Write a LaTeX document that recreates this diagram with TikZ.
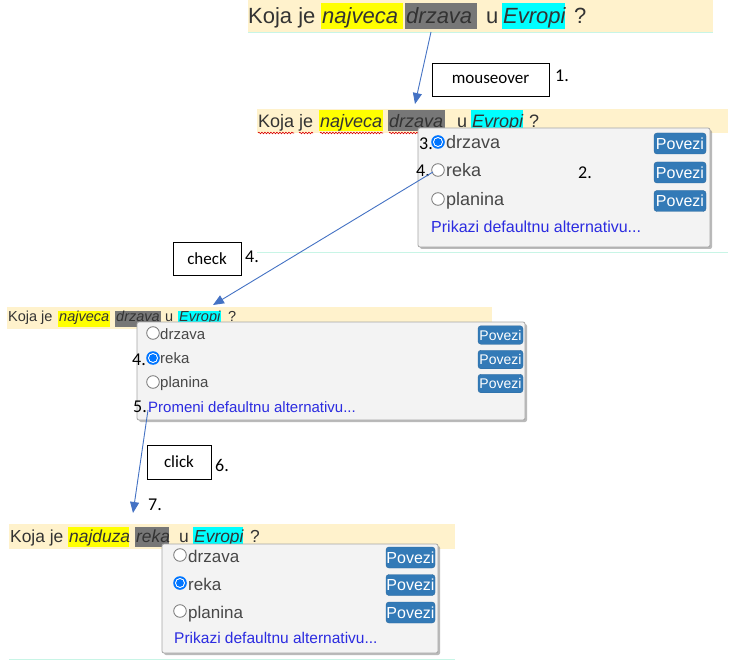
\documentclass[tikz,border=0pt]{standalone}
\usepackage{fontspec}
\setmainfont{Liberation Sans}
\newfontfamily\calfont{Carlito}
\usetikzlibrary{arrows.meta,shadows,decorations.pathmorphing}
\definecolor{bandbg}{HTML}{FFF2CC}
\definecolor{lineclr}{HTML}{C8F5E6}
\definecolor{hlyellow}{HTML}{FFFF00}
\definecolor{hlgray}{HTML}{777777}
\definecolor{hlcyan}{HTML}{00FFFF}
\definecolor{txtclr}{HTML}{333333}
\definecolor{popbg}{HTML}{F3F3F3}
\definecolor{popedge}{HTML}{A6A6A6}
\definecolor{linkclr}{HTML}{2B2BE0}
\definecolor{btnclr}{HTML}{337AB7}
\definecolor{radioclr}{HTML}{0075FF}
\definecolor{arrowclr}{HTML}{4472C4}
\newcommand\fsz[1]{\fontsize{#1}{#1}\selectfont}
\tikzset{
  word/.style={anchor=base west, inner sep=0pt, text=txtclr},
  opt/.style={anchor=base west, inner sep=0pt, text=black!72},
  linktxt/.style={anchor=base west, inner sep=0pt, text=linkclr},
  stepnum/.style={anchor=base west, inner sep=0pt, font=\calfont\fsz{18}},
  actbox/.style={draw=black, line width=0.8pt, font=\calfont\fsz{17}, inner sep=0pt},
  popup/.style={fill=popbg, draw=popedge, line width=0.8pt, rounded corners=2pt,
    drop shadow={shadow xshift=2pt, shadow yshift=-2pt, fill=black!45, opacity=0.6}},
  btnbox/.style={fill=btnclr, draw=btnclr!85!black, rounded corners=3pt, text=white, inner sep=0pt},
  flow/.style={draw=arrowclr, line width=0.9pt, -{Triangle[length=11pt,width=9pt]}},
  spell/.style={draw=red!85!black, line width=0.6pt, decorate,
    decoration={snake, amplitude=0.8pt, segment length=3pt}},
  radiooff/.pic={\draw[fill=white, draw=black!55, line width=0.8pt] (0,0) circle[radius=6.3pt];},
  radioon/.pic={\fill[radioclr] (0,0) circle[radius=6.8pt];
    \fill[white] (0,0) circle[radius=5pt];
    \fill[radioclr] (0,0) circle[radius=3.9pt];},
}
\begin{document}
\begin{tikzpicture}[x=1pt,y=-1pt]
\useasboundingbox[fill=white] (0,0) rectangle (736,660);
% Panel 1: plain sentence
\fill[bandbg] (248,0) rectangle (713,32);
\draw[lineclr, line width=0.8pt] (248,32.5) -- (713,32.5);
\fill[hlyellow] (321,3) rectangle (403,29);
\fill[hlgray] (405,3) rectangle (477,29);
\fill[hlcyan] (502,3) rectangle (565,29);
\node[word, font=\fsz{22}] (t1a) at (248,24) {Koja je};
\node[word, font=\fsz{22}\itshape] (t1b) at (322,24) {najveca};
\node[word, font=\fsz{22}\itshape] (t1c) at (406,24) {drzava};
\node[word, font=\fsz{22}] (t1d) at (486,24) {u};
\node[word, font=\fsz{22}\itshape] (t1e) at (503,24) {Evropi};
\node[word, font=\fsz{22}] (t1f) at (574,24) {?};
% Step 1: mouseover
\node[actbox, minimum width=117pt, minimum height=33pt] (mouseover) at (490.5,79.5) {mouseover};
\node[stepnum] (n1) at (555,82) {1.};
% Panel 2: sentence with popup
\fill[bandbg] (257,109) rectangle (728,133);
\fill[hlyellow] (319,110) rectangle (383,131);
\fill[hlgray] (388,110) rectangle (445,131);
\fill[hlcyan] (471,110) rectangle (523,131);
\node[word, font=\fsz{18}] (t2a) at (258,128) {Koja je};
\node[word, font=\fsz{18}\itshape] (t2b) at (320,128) {najveca};
\node[word, font=\fsz{18}\itshape] (t2c) at (389,128) {drzava};
\node[word, font=\fsz{18}] (t2d) at (457,128) {u};
\node[word, font=\fsz{18}\itshape] (t2e) at (472,128) {Evropi};
\node[word, font=\fsz{18}] (t2f) at (529,128) {?};
\draw[spell] (258,133) -- (294,133);
\draw[spell] (299,133) -- (313,133);
\draw[spell] (320,133) -- (383,133);
\draw[spell] (389,133) -- (443,133);
\draw[lineclr, line width=0.8pt] (257,252) -- (728,252);
\path[popup] (418,128) rectangle (710,247);
\pic at (438,142) {radioon};
\pic at (438,170) {radiooff};
\pic at (438,199) {radiooff};
\node[opt, font=\fsz{18}] (o2a) at (446,149) {drzava};
\node[opt, font=\fsz{18}] (o2b) at (446,177) {reka};
\node[opt, font=\fsz{18}] (o2c) at (446,206) {planina};
\node[linktxt, font=\fsz{16}] (l2) at (431,233) {Prikazi defaultnu alternativu...};
\node[btnbox, minimum width=52pt, minimum height=21pt, font=\fsz{16}] (b2a) at (680,143.5) {Povezi};
\node[btnbox, minimum width=52pt, minimum height=21pt, font=\fsz{16}] (b2b) at (680,172.5) {Povezi};
\node[btnbox, minimum width=52pt, minimum height=21pt, font=\fsz{16}] (b2c) at (680,201) {Povezi};
\node[stepnum] (n3) at (419,150) {3.};
\node[stepnum] (n4a) at (416,177) {4.};
\node[stepnum] (n2) at (578,179) {2.};
% Step 4: check
\node[actbox, minimum width=68pt, minimum height=33pt] (check) at (207,258.5) {check};
\node[stepnum] (n4b) at (245,263) {4.};
% Panel 3: option checked
\fill[bandbg] (7,307) rectangle (492,329);
\fill[hlyellow] (58,311) rectangle (110,327);
\fill[hlgray] (115,311) rectangle (161,327);
\fill[hlcyan] (178,311) rectangle (221,327);
\node[word, font=\fsz{14.5}] (t3a) at (8,321) {Koja je};
\node[word, font=\fsz{14.5}\itshape] (t3b) at (59,321) {najveca};
\node[word, font=\fsz{14.5}\itshape] (t3c) at (116,321) {drzava};
\node[word, font=\fsz{14.5}] (t3d) at (165,321) {u};
\node[word, font=\fsz{14.5}\itshape] (t3e) at (179,321) {Evropi};
\node[word, font=\fsz{14.5}] (t3f) at (228,321) {?};
\path[popup] (137,322) rectangle (525,420);
\pic at (153,333) {radiooff};
\pic at (153,358) {radioon};
\pic at (153,382) {radiooff};
\node[opt, font=\fsz{15}] (o3a) at (160,339) {drzava};
\node[opt, font=\fsz{15}] (o3b) at (160,363) {reka};
\node[opt, font=\fsz{15}] (o3c) at (160,387) {planina};
\node[linktxt, font=\fsz{15}] (l3) at (148,412) {Promeni defaultnu alternativu...};
\node[btnbox, minimum width=45pt, minimum height=18.5pt, font=\fsz{14}] (b3a) at (500.5,335) {Povezi};
\node[btnbox, minimum width=45pt, minimum height=18.5pt, font=\fsz{14}] (b3b) at (500.5,359.5) {Povezi};
\node[btnbox, minimum width=45pt, minimum height=18.5pt, font=\fsz{14}] (b3c) at (500.5,383.5) {Povezi};
\node[stepnum] (n4c) at (132,365) {4.};
\node[stepnum] (n5) at (133,412) {5.};
% Step 6: click
\node[actbox, minimum width=64pt, minimum height=34pt] (click) at (179,462) {click};
\node[stepnum] (n6) at (215,471) {6.};
\node[stepnum] (n7) at (148,510) {7.};
% Panel 4: new sentence
\fill[bandbg] (9,524) rectangle (455,549);
\fill[hlyellow] (68,527) rectangle (129,547);
\fill[hlgray] (135,527) rectangle (169,547);
\fill[hlcyan] (193,527) rectangle (243,547);
\node[word, font=\fsz{17.4}] (t4a) at (10,542) {Koja je};
\node[word, font=\fsz{17.4}\itshape] (t4b) at (69,542) {najduza};
\node[word, font=\fsz{17.4}\itshape] (t4c) at (136,542) {reka};
\node[word, font=\fsz{17.4}] (t4d) at (179,542) {u};
\node[word, font=\fsz{17.4}\itshape] (t4e) at (194,542) {Evropi};
\node[word, font=\fsz{17.4}] (t4f) at (250,542) {?};
\draw[lineclr, line width=0.8pt] (9,659) -- (455,659);
\path[popup] (162,544) rectangle (438,653);
\pic at (180,555) {radiooff};
\pic at (180,583) {radioon};
\pic at (180,611) {radiooff};
\node[opt, font=\fsz{17}] (o4a) at (188,562) {drzava};
\node[opt, font=\fsz{17}] (o4b) at (188,590) {reka};
\node[opt, font=\fsz{17}] (o4c) at (188,618) {planina};
\node[linktxt, font=\fsz{15.5}] (l4) at (174,643) {Prikazi defaultnu alternativu...};
\node[btnbox, minimum width=49pt, minimum height=21pt, font=\fsz{16}] (b4a) at (410.5,557.5) {Povezi};
\node[btnbox, minimum width=49pt, minimum height=21pt, font=\fsz{16}] (b4b) at (410.5,585) {Povezi};
\node[btnbox, minimum width=49pt, minimum height=21pt, font=\fsz{16}] (b4c) at (410.5,612.5) {Povezi};
% Arrows between panels
\coordinate (a1s) at (431,32);
\coordinate (a1e) at (415,104);
\coordinate (a2s) at (433,172);
\coordinate (a2e) at (213,305);
\coordinate (a3s) at (148,410);
\coordinate (a3e) at (133,513);
\draw[flow] (a1s) -- (a1e);
\draw[flow] (a2s) -- (a2e);
\draw[flow] (a3s) -- (a3e);
\end{tikzpicture}
\end{document}
